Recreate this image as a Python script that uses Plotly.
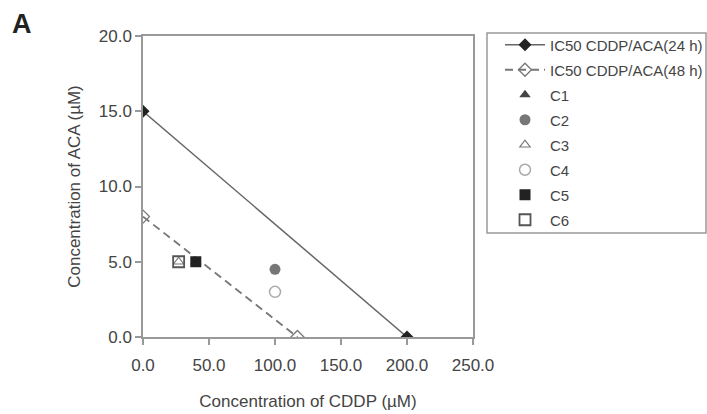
import plotly.graph_objects as go

# Data
ic50_24h_x = [0, 200]
ic50_24h_y = [15, 0]
ic50_48h_x = [0, 117]
ic50_48h_y = [8, 0]

combo_names = ["C1", "C2", "C3", "C4", "C5", "C6"]
combo_x = [40, 100, 27, 100, 40, 27]
combo_y = [5, 4.5, 5, 3, 5, 5]

x_ticks = [0, 50, 100, 150, 200, 250]
y_ticks = [0, 5, 10, 15, 20]

FONT = "Liberation Sans, Arial, sans-serif"
TXT = "#444444"
W, H = 707, 414

fig = go.Figure()

fig.add_trace(go.Scatter(
    x=ic50_24h_x, y=ic50_24h_y, mode="lines+markers",
    name="IC50 CDDP/ACA(24 h)", legendgroup="a",
    line=dict(color="#666666", width=1.5),
    marker=dict(symbol="diamond", size=10, color="#222222", line=dict(width=0)),
))
fig.add_trace(go.Scatter(
    x=ic50_48h_x, y=ic50_48h_y, mode="lines+markers",
    name="IC50 CDDP/ACA(48 h)", legendgroup="b",
    line=dict(color="#777777", width=1.8, dash="8px,5px"),
    marker=dict(symbol="diamond-open", size=10, color="#777777", line=dict(width=1.3)),
))

styles = {
    "C1": dict(symbol="triangle-up", size=10, color="#444444", line=dict(width=0)),
    "C2": dict(symbol="circle", size=11, color="#777777", line=dict(width=0)),
    "C3": dict(symbol="triangle-up-open", size=9, color="#777777", line=dict(width=1.2)),
    "C4": dict(symbol="circle-open", size=11, color="#aaaaaa", line=dict(width=1.5)),
    "C5": dict(symbol="square", size=11, color="#222222", line=dict(width=0)),
    "C6": dict(symbol="square-open", size=11, color="#555555", line=dict(width=1.8)),
}
for i, (n, xv, yv) in enumerate(zip(combo_names, combo_x, combo_y)):
    fig.add_trace(go.Scatter(
        x=[xv], y=[yv], mode="markers", name=n, legendgroup="g%d" % i,
        marker=styles[n],
    ))

axis_common = dict(
    showline=True, linecolor="#999999", linewidth=1.5, mirror=True,
    ticks="outside", ticklen=6, tickcolor="#999999", tickwidth=1.5,
    showgrid=False, zeroline=False, automargin=False,
    tickfont=dict(family=FONT, size=17, color=TXT),
    tickformat=".1f",
)

fig.update_layout(
    width=W, height=H,
    margin=dict(l=143, r=234, t=36, b=77, autoexpand=False),
    paper_bgcolor="white", plot_bgcolor="white",
    font=dict(family=FONT, color=TXT),
    xaxis=dict(range=[0, 250], tickvals=x_ticks, ticklabelstandoff=6,
               title=dict(text="Concentration of CDDP (µM)", font=dict(size=17, color=TXT), standoff=21),
               **axis_common),
    yaxis=dict(range=[0, 20], tickvals=y_ticks,
               title=dict(text="Concentration of ACA (µM)", font=dict(size=17, color=TXT), standoff=14),
               **axis_common),
    legend=dict(
        xref="container", yref="container",
        x=500 / W, y=1 - 28.5 / H, xanchor="left", yanchor="top",
        borderwidth=0, bgcolor="rgba(0,0,0,0)",
        font=dict(family=FONT, size=15, color=TXT),
        traceorder="grouped", tracegroupgap=2.5, itemwidth=40,
        maxheight=400,
    ),
    showlegend=True,
)

# legend frame
fig.add_shape(
    type="rect", xref="paper", yref="paper",
    x0=(487 - 143) / 330, x1=(706 - 143) / 330,
    y0=(337 - 233) / 301, y1=(337 - 33) / 301,
    line=dict(color="#999999", width=1.5), fillcolor="rgba(0,0,0,0)", layer="below",
)

fig.add_annotation(
    text="<b>A</b>", xref="paper", yref="paper", x=(10 - 143) / 330, y=(337 - 7) / 301,
    xanchor="left", yanchor="top", showarrow=False,
    font=dict(family=FONT, size=27, color="#222222"),
)

fig.write_html("out.html", config={"displayModeBar": False},
               post_script="document.body.style.margin='0';document.body.style.padding='0';")
